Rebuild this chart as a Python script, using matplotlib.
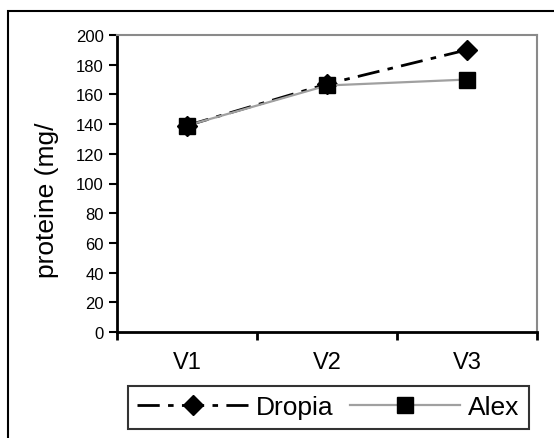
import matplotlib.pyplot as plt
from matplotlib.patches import Rectangle

plt.rcParams['font.family'] = ['Liberation Sans', 'DejaVu Sans']

categories = ["V1", "V2", "V3"]
dropia = [139, 167, 190]
alex = [139, 166, 170]
y_ticks = [0, 20, 40, 60, 80, 100, 120, 140, 160, 180, 200]

fig = plt.figure(figsize=(5.54, 4.39), dpi=100)
# outer chart frame (right and bottom edges run off the picture)
fig.patches.append(Rectangle((8 / 554, -0.1), 1.2, 1 - 12 / 439 + 0.1,
                             transform=fig.transFigure, fill=False,
                             edgecolor="black", linewidth=1.5))

ax = fig.add_axes([117 / 554, 1 - 333 / 439, 420 / 554, 297 / 439])
x = range(len(categories))
ax.plot(x, dropia, color="black", linewidth=2, dashes=(8, 3, 2, 3),
        marker="D", markersize=10, label="Dropia")
ax.plot(x, alex, color="#a0a0a0", linewidth=1.6,
        marker="s", markersize=12, markerfacecolor="black",
        markeredgecolor="black", label="Alex")

ax.set_xlim(-0.5, 2.5)
ax.set_ylim(0, 200)
ax.set_yticks(y_ticks)
ax.set_yticklabels([str(v) for v in y_ticks], fontsize=12)
ax.set_xticks([-0.5, 0.5, 1.5, 2.5])
ax.set_xticklabels([])
ax.set_xticks(list(x), minor=True)
ax.set_xticklabels(categories, minor=True, fontsize=17)
ax.tick_params(axis="x", which="minor", length=0, pad=14)
ax.tick_params(axis="x", which="major", length=6, width=2, direction="out")
ax.tick_params(axis="y", length=6, width=1.5, direction="out", pad=3.5)

for s in ["left", "bottom"]:
    ax.spines[s].set_linewidth(2)
    ax.spines[s].set_color("black")
for s in ["top", "right"]:
    ax.spines[s].set_linewidth(1.5)
    ax.spines[s].set_color("#8a8a8a")

fig.text(47 / 554, 1 - 200 / 439, "proteine (mg/", fontsize=19,
         rotation=90, ha="center", va="center")

leg = fig.legend(loc="center", bbox_to_anchor=(328.5 / 554, 1 - 408.5 / 439),
                 ncol=2, fontsize=19, frameon=True, fancybox=False,
                 handlelength=4.2, columnspacing=0.6, handletextpad=0.3,
                 borderpad=0.35, borderaxespad=0)
leg.get_frame().set_edgecolor("black")
leg.get_frame().set_linewidth(1.5)

plt.savefig("out.png", dpi=100)
